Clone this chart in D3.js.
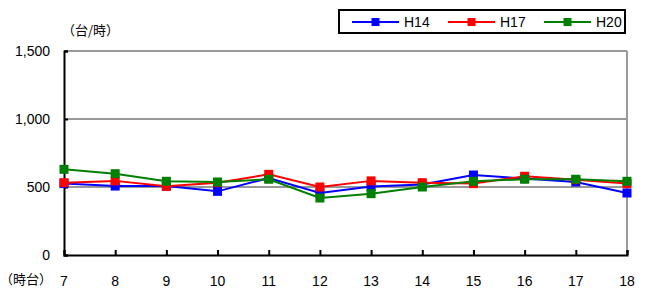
<!DOCTYPE html>
<html>
<head>
<meta charset="utf-8">
<script src="https://cdn.jsdelivr.net/npm/d3@7"></script>
<style>
  body { margin: 0; background: #fff; }
  svg text { font-family: "Liberation Sans", "Noto Sans CJK JP", sans-serif; }
</style>
</head>
<body>
<div id="chart"></div>
<script>
// hours on x axis
const hours = [7, 8, 9, 10, 11, 12, 13, 14, 15, 16, 17, 18];
const yTicks = [0, 500, 1000, 1500];
const seriesNames = ["H14", "H17", "H20"];
const seriesColors = ["#0000ff", "#ff0000", "#008000"];

// values (台/時)
const h14 = [525, 507, 507, 468, 566, 456, 503, 518, 588, 562, 537, 456];
const h17 = [532, 545, 505, 532, 593, 500, 545, 532, 525, 579, 554, 525];
const h20 = [630, 598, 542, 537, 557, 419, 451, 500, 542, 557, 557, 542];
const allSeries = [h14, h17, h20];

const width = 646, height = 289;
const plotL = 64, plotR = 627, plotT = 51, plotB = 255;

const svg = d3.select("#chart").append("svg")
    .attr("width", width)
    .attr("height", height);

const x = d3.scaleLinear().domain([7, 18]).range([plotL, plotR]);
const y = d3.scaleLinear().domain([0, 1500]).range([plotB, plotT]);

// gridlines
svg.append("g")
    .selectAll("line")
    .data(yTicks.filter(d => d > 0))
    .join("line")
    .attr("x1", plotL).attr("x2", plotR)
    .attr("y1", d => y(d)).attr("y2", d => y(d))
    .attr("stroke", "#999")
    .attr("stroke-width", 2);

// right border
svg.append("line")
    .attr("x1", plotR).attr("x2", plotR)
    .attr("y1", plotT).attr("y2", plotB)
    .attr("stroke", "#999")
    .attr("stroke-width", 2);

// y axis
const yAxis = svg.append("g")
    .attr("transform", `translate(${plotL},0)`)
    .call(d3.axisRight(y).tickValues(yTicks).tickSize(4).tickFormat(""));
yAxis.select(".domain").attr("stroke", "#000").attr("stroke-width", 2);
yAxis.selectAll(".tick line").attr("stroke", "#000").attr("stroke-width", 2);

svg.append("g")
    .selectAll("text")
    .data(yTicks)
    .join("text")
    .attr("x", 50)
    .attr("y", d => y(d) + 5)
    .attr("text-anchor", "end")
    .attr("font-size", 14)
    .text(d => d3.format(",")(d));

// x axis
const xAxis = svg.append("g")
    .attr("transform", `translate(0,${plotB})`)
    .call(d3.axisTop(x).tickValues(hours).tickSize(5).tickFormat(""));
xAxis.select(".domain").attr("stroke", "#000").attr("stroke-width", 2);
xAxis.selectAll(".tick line").attr("stroke", "#000").attr("stroke-width", 2);

svg.append("g")
    .selectAll("text")
    .data(hours)
    .join("text")
    .attr("x", d => x(d))
    .attr("y", 286)
    .attr("text-anchor", "middle")
    .attr("font-size", 14)
    .text(d => d);

// unit labels
svg.append("text")
    .attr("x", 62).attr("y", 35)
    .attr("font-size", 13)
    .style("font-family", "'Noto Sans CJK JP', sans-serif")
    .text("（台/時）");

svg.append("text")
    .attr("x", 0).attr("y", 284)
    .attr("font-size", 13)
    .style("font-family", "'Noto Sans CJK JP', sans-serif")
    .text("（時台）");

// lines and markers
const line = d3.line()
    .x((d, i) => x(hours[i]))
    .y(d => y(d));

allSeries.forEach((vals, k) => {
    svg.append("path")
        .datum(vals)
        .attr("d", line)
        .attr("fill", "none")
        .attr("stroke", seriesColors[k])
        .attr("stroke-width", 2);
    svg.append("g")
        .selectAll("rect")
        .data(vals)
        .join("rect")
        .attr("x", (d, i) => x(hours[i]) - 4.5)
        .attr("y", d => y(d) - 4.5)
        .attr("width", 9)
        .attr("height", 9)
        .attr("fill", seriesColors[k]);
});

// legend
const legend = svg.append("g");
legend.append("rect")
    .attr("x", 339).attr("y", 10)
    .attr("width", 286).attr("height", 23)
    .attr("fill", "#fff")
    .attr("stroke", "#000")
    .attr("stroke-width", 2);

seriesNames.forEach((name, k) => {
    const lx = 352 + k * 96;
    legend.append("line")
        .attr("x1", lx).attr("x2", lx + 47)
        .attr("y1", 22).attr("y2", 22)
        .attr("stroke", seriesColors[k])
        .attr("stroke-width", 2);
    legend.append("rect")
        .attr("x", lx + 23.5 - 4).attr("y", 18)
        .attr("width", 8).attr("height", 8)
        .attr("fill", seriesColors[k]);
    legend.append("text")
        .attr("x", lx + 52).attr("y", 27)
        .attr("font-size", 14)
        .text(name);
});
</script>
</body>
</html>
